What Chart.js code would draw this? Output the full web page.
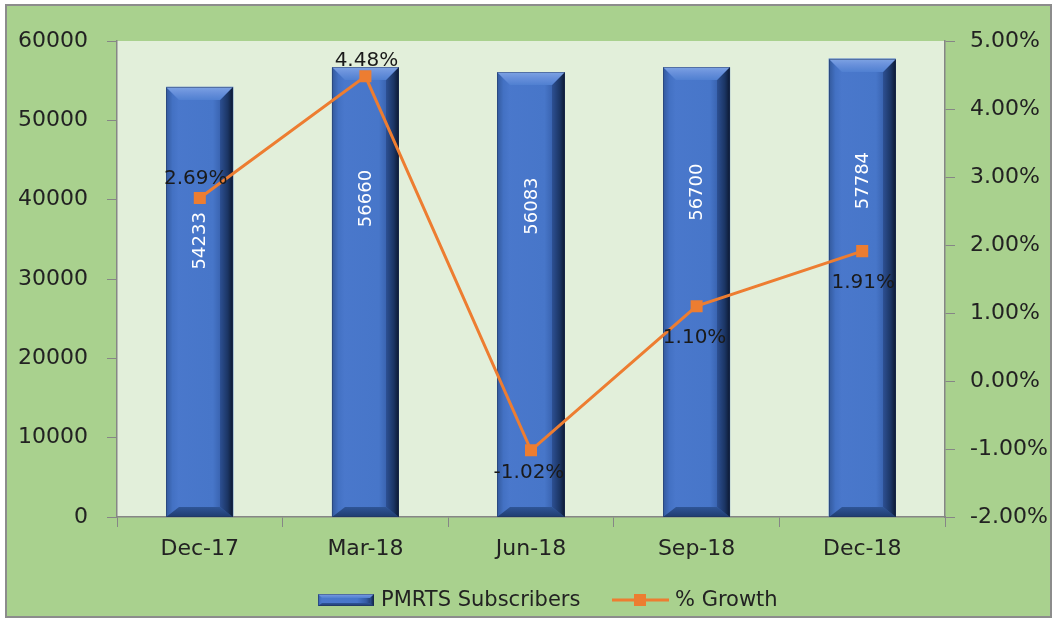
<!DOCTYPE html>
<html>
<head>
<meta charset="utf-8">
<title>PMRTS Subscribers</title>
<script src="https://cdn.jsdelivr.net/npm/chart.js@4.4.1/dist/chart.umd.min.js"></script>
<style>
  html, body { margin: 0; padding: 0; background: #fff; }
  canvas { display: block; }
</style>
</head>
<body>
<canvas id="chart" width="1057" height="622"></canvas>
<script>
// chart data
const quarters = ["Dec-17", "Mar-18", "Jun-18", "Sep-18", "Dec-18"];
const subscribers = [54233, 56660, 56083, 56700, 57784];
const growthPct = [2.69, 4.48, -1.02, 1.10, 1.91];
const leftTicks = { min: 0, max: 60000, step: 10000 };
const rightTicks = { min: -2, max: 5, step: 1 };

const FONT = "'DejaVu Sans', sans-serif";
const TEXT = "#222222";
const AXIS = "#868686";
const ORANGE = "#ed7d31";

// where the labels sit, relative to the bar top / the point (px)
const barLabelDy = [154, 131, 134, 125, 122];
const pctLabelOffset = [[-4, -19], [1, -16], [-2, 22], [-2, 32], [1, 32]];

function bevelBar(ctx, x0, x1, top, bottom, b = 12, bb = 10) {
  const w = x1 - x0;
  const bt = Math.min(b, (bottom - top) / 2);
  let g = ctx.createLinearGradient(x0, 0, x1, 0);
  g.addColorStop(0, "#3b64b2");
  g.addColorStop(0.08, "#4a78cc");
  g.addColorStop(0.7, "#4776c9");
  g.addColorStop(0.86, "#345ca6");
  g.addColorStop(1, "#15294c");
  ctx.fillStyle = g;
  ctx.fillRect(x0, top, w, bottom - top);

  // left edge
  g = ctx.createLinearGradient(x0, 0, x0 + b, 0);
  g.addColorStop(0, "#33599c");
  g.addColorStop(0.5, "#4371c3");
  g.addColorStop(1, "#4a78cc");
  ctx.fillStyle = g;
  ctx.beginPath();
  ctx.moveTo(x0, top); ctx.lineTo(x0 + b, top + bt); ctx.lineTo(x0 + b, bottom - bb); ctx.lineTo(x0, bottom);
  ctx.closePath(); ctx.fill();

  // right edge
  g = ctx.createLinearGradient(x1 - b, 0, x1, 0);
  g.addColorStop(0, "#2d5093");
  g.addColorStop(0.6, "#1b3564");
  g.addColorStop(1, "#0c1830");
  ctx.fillStyle = g;
  ctx.beginPath();
  ctx.moveTo(x1, top); ctx.lineTo(x1, bottom); ctx.lineTo(x1 - b, bottom - bb); ctx.lineTo(x1 - b, top + bt);
  ctx.closePath(); ctx.fill();

  // bottom bevel
  g = ctx.createLinearGradient(0, bottom - bb, 0, bottom);
  g.addColorStop(0, "#2f5597");
  g.addColorStop(1, "#203d70");
  ctx.fillStyle = g;
  ctx.beginPath();
  ctx.moveTo(x0, bottom); ctx.lineTo(x1, bottom); ctx.lineTo(x1 - b, bottom - bb); ctx.lineTo(x0 + b, bottom - bb);
  ctx.closePath(); ctx.fill();

  // top bevel
  g = ctx.createLinearGradient(0, top, 0, top + bt);
  g.addColorStop(0, "#7ea3e3");
  g.addColorStop(0.45, "#6890db");
  g.addColorStop(1, "#5080d1");
  ctx.fillStyle = g;
  ctx.beginPath();
  ctx.moveTo(x0, top); ctx.lineTo(x1, top); ctx.lineTo(x1 - b, top + bt); ctx.lineTo(x0 + b, top + bt);
  ctx.closePath(); ctx.fill();

  ctx.strokeStyle = "rgba(30,50,90,0.45)";
  ctx.lineWidth = 1;
  ctx.strokeRect(x0 + 0.5, top + 0.5, w - 1, bottom - top - 1);
}

const frame = {
  id: "frame",
  beforeDraw(chart) {
    const { ctx, chartArea: a } = chart;
    ctx.save();
    ctx.fillStyle = "#ffffff";
    ctx.fillRect(0, 0, chart.width, chart.height);
    ctx.fillStyle = "#a9d18e";
    ctx.fillRect(6, 5, 1045, 612);
    ctx.fillStyle = "#e2efda";
    ctx.fillRect(a.left, a.top, a.right - a.left, a.bottom - a.top);
    ctx.restore();
  },
  afterDatasetDraw(chart, args) {
    if (args.meta.type !== "bar") return;
    const ctx = chart.ctx;
    ctx.save();
    args.meta.data.forEach((bar, i) => {
      const x0 = Math.round(bar.x - bar.width / 2), x1 = Math.round(bar.x + bar.width / 2);
      bevelBar(ctx, x0, x1, Math.round(bar.y), Math.round(bar.base), 13, 10);
      ctx.save();
      ctx.translate(bar.x + 1, bar.y + barLabelDy[i]);
      ctx.rotate(-Math.PI / 2);
      ctx.fillStyle = "#ffffff";
      ctx.font = "18px " + FONT;
      ctx.textAlign = "center";
      ctx.textBaseline = "middle";
      ctx.fillText(String(subscribers[i]), 0, 0);
      ctx.restore();
    });
    ctx.restore();
  },
  afterDraw(chart) {
    const ctx = chart.ctx;
    ctx.save();
    // % labels on the line
    const lineMeta = chart.getDatasetMeta(1);
    ctx.font = "20px " + FONT;
    ctx.fillStyle = "#1a1a1a";
    ctx.textAlign = "center";
    ctx.textBaseline = "middle";
    lineMeta.data.forEach((pt, i) => {
      const [dx, dy] = pctLabelOffset[i];
      ctx.fillText(growthPct[i].toFixed(2) + "%", pt.x + dx, pt.y + dy);
    });

    // legend
    const ds = chart.data.datasets;
    const cy = 600;
    let x = 318;
    bevelBar(ctx, x, x + 56, cy - 6, cy + 6, 4, 3);
    ctx.font = "21px " + FONT;
    ctx.fillStyle = TEXT;
    ctx.textAlign = "left";
    ctx.fillText(ds[0].label, x + 63, cy + 1);
    x = 612;
    ctx.strokeStyle = ORANGE;
    ctx.lineWidth = 3;
    ctx.beginPath();
    ctx.moveTo(x, cy); ctx.lineTo(x + 57, cy);
    ctx.stroke();
    ctx.fillStyle = ORANGE;
    ctx.fillRect(x + 22, cy - 6, 12, 12);
    ctx.fillStyle = TEXT;
    ctx.fillText(ds[1].label, x + 63, cy + 1);

    // outer border
    ctx.strokeStyle = "#8c8c8c";
    ctx.lineWidth = 2;
    ctx.strokeRect(6, 5, 1045, 612);
    ctx.restore();
  }
};

new Chart(document.getElementById("chart"), {
  data: {
    labels: quarters,
    datasets: [
      {
        type: "bar",
        label: "PMRTS Subscribers",
        data: subscribers,
        yAxisID: "y",
        backgroundColor: "#4472c4",
        categoryPercentage: 1,
        barPercentage: 0.405,
        order: 2
      },
      {
        type: "line",
        label: "% Growth",
        data: growthPct,
        yAxisID: "y1",
        borderColor: ORANGE,
        backgroundColor: ORANGE,
        borderWidth: 3,
        tension: 0,
        pointStyle: "rect",
        pointRadius: 8.5,
        pointBorderWidth: 0,
        pointHoverRadius: 8.5,
        order: 1
      }
    ]
  },
  options: {
    responsive: false,
    animation: false,
    devicePixelRatio: 1,
    layout: { padding: { top: 41, left: 0, right: 0, bottom: 0 } },
    plugins: {
      legend: { display: false },
      tooltip: { enabled: false }
    },
    scales: {
      x: {
        afterFit: s => { s.height = 105; },
        grid: { offset: true, drawOnChartArea: false, color: AXIS, tickLength: 10 },
        border: { color: AXIS, width: 1.5 },
        ticks: { color: TEXT, font: { family: FONT, size: 22 }, padding: 9, maxRotation: 0 }
      },
      y: {
        position: "left",
        min: leftTicks.min, max: leftTicks.max,
        afterFit: s => { s.width = 117; },
        grid: { drawOnChartArea: false, color: AXIS, tickLength: 10 },
        border: { color: AXIS, width: 1.5 },
        ticks: { stepSize: leftTicks.step, color: TEXT, font: { family: FONT, size: 22 }, padding: 19, callback: v => String(v) }
      },
      y1: {
        position: "right",
        min: rightTicks.min, max: rightTicks.max,
        afterFit: s => { s.width = 112; },
        grid: { drawOnChartArea: false, color: AXIS, tickLength: 10 },
        border: { color: AXIS, width: 1.5 },
        ticks: { stepSize: rightTicks.step, color: TEXT, font: { family: FONT, size: 22 }, padding: 15, callback: v => v.toFixed(2) + "%" }
      }
    }
  },
  plugins: [frame]
});
</script>
</body>
</html>
